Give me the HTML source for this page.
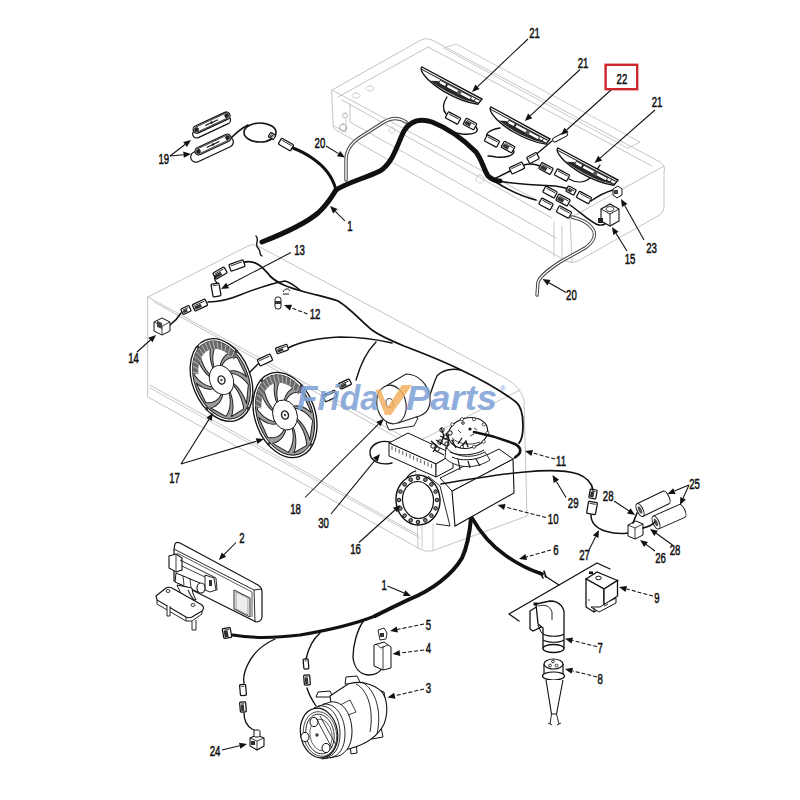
<!DOCTYPE html>
<html><head><meta charset="utf-8"><style>
html,body{margin:0;padding:0;background:#fff;width:800px;height:800px;overflow:hidden}
svg{position:absolute;left:0;top:0;display:block}
.t{font-family:"Liberation Sans",sans-serif;fill:#111;stroke:#111;stroke-width:0.55px}
</style></head><body>
<svg width="800" height="800" viewBox="0 0 800 800">
<rect width="800" height="800" fill="#fff"/>
<path d="M332,90 L421,40 Q426,37 432,40 L660,162 Q666,166 664,172 L664,208 Q663,214 656,217 L578,261 Q572,264 566,261 L336,130 Q333,128 333,124 Z" stroke="#c4c4c4" stroke-width="1.0" fill="none" stroke-linecap="round" stroke-linejoin="round" />
<path d="M332,90 L570,218 L664,166" stroke="#c4c4c4" stroke-width="1.0" fill="none" stroke-linecap="round" stroke-linejoin="round" />
<path d="M570,218 L572,262" stroke="#c4c4c4" stroke-width="1.0" fill="none" stroke-linecap="round" stroke-linejoin="round" />
<path d="M338,97 L428,47 L652,166" stroke="#c4c4c4" stroke-width="1.0" fill="none" stroke-linecap="round" stroke-linejoin="round" />
<path d="M342,100 L552,218" stroke="#c4c4c4" stroke-width="1.0" fill="none" stroke-linecap="round" stroke-linejoin="round" />
<path d="M350,104 L350,122 L556,238" stroke="#c4c4c4" stroke-width="1.0" fill="none" stroke-linecap="round" stroke-linejoin="round" />
<path d="M444,48 L456,44 L640,142 L628,148 Z" stroke="#c4c4c4" stroke-width="0.9" fill="none" stroke-linecap="round" stroke-linejoin="round" />
<path d="M554,222 L554,256 M562,226 L562,260" stroke="#c4c4c4" stroke-width="0.9" fill="none" stroke-linecap="round" stroke-linejoin="round" />
<path d="M334,126 L346,132 M346,120 L346,132" stroke="#c4c4c4" stroke-width="0.9" fill="none" stroke-linecap="round" stroke-linejoin="round" />
<path d="M343,124 a3.5,3.5 0 1,0 0.1,0" stroke="#888" stroke-width="0.8" fill="none" stroke-linecap="round" stroke-linejoin="round" />
<path d="M345,113 a2.5,2.5 0 1,0 0.1,0" stroke="#999" stroke-width="0.8" fill="none" stroke-linecap="round" stroke-linejoin="round" />
<path d="M356,93 a4,2.5 0 1,0 0.1,0 M370,86 a4,2.5 0 1,0 0.1,0" stroke="#c4c4c4" stroke-width="0.8" fill="none" stroke-linecap="round" stroke-linejoin="round" />
<path d="M392,127 a3,3 0 1,0 0.1,0 M480,175 a4,4 0 1,0 0.1,0" stroke="#c4c4c4" stroke-width="0.8" fill="none" stroke-linecap="round" stroke-linejoin="round" />
<path d="M148,297 L248,246 Q253,243 258,246 L505,378 Q520,386 524,400 L527,516 L432,551 Q425,552 420,549 L148,397 Z" stroke="#c4c4c4" stroke-width="1.0" fill="none" stroke-linecap="round" stroke-linejoin="round" />
<path d="M422,522 L422,548 M433,524 L433,550 M150,388 L420,538" stroke="#c4c4c4" stroke-width="0.9" fill="none" stroke-linecap="round" stroke-linejoin="round" />
<path d="M148,297 L415,443 L520,390" stroke="#c4c4c4" stroke-width="1.0" fill="none" stroke-linecap="round" stroke-linejoin="round" />
<path d="M415,443 L418,549" stroke="#c4c4c4" stroke-width="1.0" fill="none" stroke-linecap="round" stroke-linejoin="round" />
<path d="M154,302 L412,446" stroke="#c4c4c4" stroke-width="1.0" fill="none" stroke-linecap="round" stroke-linejoin="round" />
<path d="M150,385 L418,535" stroke="#c4c4c4" stroke-width="1.0" fill="none" stroke-linecap="round" stroke-linejoin="round" />
<path d="M262,242 C285,233 305,224 318,213 C328,204 332,196 336,190 C348,182 366,178 380,171 C394,162 398,142 404,131 C410,121 420,118 432,122 C450,129 466,142 476,152 C482,160 484,170 488,176 C492,180 496,181 500,181" stroke="#111" stroke-width="5.0" fill="none" stroke-linecap="round" stroke-linejoin="round" />
<path d="M336,190 C333,178 324,166 312,158 C305,153 298,150 293,148" stroke="#111" stroke-width="3.0" fill="none" stroke-linecap="round" stroke-linejoin="round" />
<path d="M256,236 C260,240 254,244 258,248 C262,252 258,254 262,256" stroke="#111" stroke-width="1.35" fill="none" stroke-linecap="round" stroke-linejoin="round" />
<path d="M231,138 C236,133 242,128 248,125" stroke="#111" stroke-width="1.6" fill="none" stroke-linecap="round" stroke-linejoin="round" />
<ellipse cx="260" cy="132.5" rx="16" ry="9.5" fill="none" stroke="#111" stroke-width="1.6"/>
<g transform="translate(272,136) rotate(30)"><rect x="-3.0" y="-2.5" width="6" height="5" rx="1" fill="#fff" stroke="#111" stroke-width="1.25"/><line x1="-1.5" y1="-0.7" x2="1.5" y2="-0.7" stroke="#111" stroke-width="0.8"/><rect x="-2.0" y="0.0" width="3.0" height="1.5" fill="#333"/></g>
<g transform="translate(286,144.5) rotate(30)"><rect x="-7.0" y="-3.5" width="14" height="7" rx="1" fill="#fff" stroke="#111" stroke-width="1.25"/><line x1="-5.5" y1="-1.7" x2="5.5" y2="-1.7" stroke="#111" stroke-width="0.8"/></g>
<path d="M447,97 C443,103 442,109 446,114" stroke="#111" stroke-width="1.35" fill="none" stroke-linecap="round" stroke-linejoin="round" />
<g transform="translate(453,118) rotate(28)"><rect x="-7.0" y="-3.5" width="14" height="7" rx="1" fill="#fff" stroke="#111" stroke-width="1.25"/><line x1="-5.5" y1="-1.7" x2="5.5" y2="-1.7" stroke="#111" stroke-width="0.8"/></g>
<g transform="translate(470,124) rotate(28)"><rect x="-6.0" y="-3.5" width="12" height="7" rx="1" fill="#fff" stroke="#111" stroke-width="1.25"/><line x1="-4.5" y1="-1.7" x2="4.5" y2="-1.7" stroke="#111" stroke-width="0.8"/><rect x="-5.0" y="-1.0" width="6.0" height="3.5" fill="#333"/></g>
<path d="M476,127 C480,132 474,135 462,134 C455,133 450,131 446,129" stroke="#111" stroke-width="1.35" fill="none" stroke-linecap="round" stroke-linejoin="round" />
<path d="M500,128 C488,130 484,135 488,138" stroke="#111" stroke-width="1.35" fill="none" stroke-linecap="round" stroke-linejoin="round" />
<g transform="translate(492,141) rotate(28)"><rect x="-7.0" y="-3.5" width="14" height="7" rx="1" fill="#fff" stroke="#111" stroke-width="1.25"/><line x1="-5.5" y1="-1.7" x2="5.5" y2="-1.7" stroke="#111" stroke-width="0.8"/></g>
<g transform="translate(508,147) rotate(28)"><rect x="-6.0" y="-3.5" width="12" height="7" rx="1" fill="#fff" stroke="#111" stroke-width="1.25"/><line x1="-4.5" y1="-1.7" x2="4.5" y2="-1.7" stroke="#111" stroke-width="0.8"/><rect x="-5.0" y="-1.0" width="6.0" height="3.5" fill="#333"/></g>
<path d="M514,151 C514,156 505,158 496,157 C492,156 490,156 488,156" stroke="#111" stroke-width="1.35" fill="none" stroke-linecap="round" stroke-linejoin="round" />
<path d="M494,179 C500,176 505,174 510,171" stroke="#111" stroke-width="1.49" fill="none" stroke-linecap="round" stroke-linejoin="round" />
<g transform="translate(517,168) rotate(-25)"><rect x="-7.0" y="-3.5" width="14" height="7" rx="1" fill="#fff" stroke="#111" stroke-width="1.25"/><line x1="-5.5" y1="-1.7" x2="5.5" y2="-1.7" stroke="#111" stroke-width="0.8"/></g>
<path d="M524,165 C530,163 535,164 540,166" stroke="#111" stroke-width="1.35" fill="none" stroke-linecap="round" stroke-linejoin="round" />
<g transform="translate(546,168.5) rotate(28)"><rect x="-6.5" y="-3.5" width="13" height="7" rx="1" fill="#fff" stroke="#111" stroke-width="1.25"/><line x1="-5.0" y1="-1.7" x2="5.0" y2="-1.7" stroke="#111" stroke-width="0.8"/><rect x="-5.5" y="-1.0" width="6.5" height="3.5" fill="#333"/></g>
<g transform="translate(562,175) rotate(28)"><rect x="-7.0" y="-3.5" width="14" height="7" rx="1" fill="#fff" stroke="#111" stroke-width="1.25"/><line x1="-5.5" y1="-1.7" x2="5.5" y2="-1.7" stroke="#111" stroke-width="0.8"/></g>
<path d="M569,179 C576,183 584,183 590,178 C595,174 598,168 600,165" stroke="#111" stroke-width="1.35" fill="none" stroke-linecap="round" stroke-linejoin="round" />
<path d="M494,180 C510,184 530,185 555,186 C562,187 566,188 568,189" stroke="#111" stroke-width="1.49" fill="none" stroke-linecap="round" stroke-linejoin="round" />
<g transform="translate(571,190.5) rotate(28)"><rect x="-4.5" y="-3.0" width="9" height="6" rx="1" fill="#fff" stroke="#111" stroke-width="1.25"/><line x1="-3.0" y1="-1.2" x2="3.0" y2="-1.2" stroke="#111" stroke-width="0.8"/><rect x="-3.5" y="-0.5" width="4.5" height="2.5" fill="#333"/></g>
<g transform="translate(584,197.5) rotate(28)"><rect x="-7.0" y="-3.5" width="14" height="7" rx="1" fill="#fff" stroke="#111" stroke-width="1.25"/><line x1="-5.5" y1="-1.7" x2="5.5" y2="-1.7" stroke="#111" stroke-width="0.8"/></g>
<path d="M591,201 C598,196 606,192 613,190" stroke="#111" stroke-width="1.35" fill="none" stroke-linecap="round" stroke-linejoin="round" />
<path d="M494,181 C505,188 520,196 536,200" stroke="#111" stroke-width="1.49" fill="none" stroke-linecap="round" stroke-linejoin="round" />
<g transform="translate(546,204) rotate(28)"><rect x="-6.5" y="-3.5" width="13" height="7" rx="1" fill="#fff" stroke="#111" stroke-width="1.25"/><line x1="-5.0" y1="-1.7" x2="5.0" y2="-1.7" stroke="#111" stroke-width="0.8"/></g>
<g transform="translate(550,192) rotate(28)"><rect x="-6.5" y="-3.5" width="13" height="7" rx="1" fill="#fff" stroke="#111" stroke-width="1.25"/><line x1="-5.0" y1="-1.7" x2="5.0" y2="-1.7" stroke="#111" stroke-width="0.8"/></g>
<g transform="translate(563,200) rotate(28)"><rect x="-6.5" y="-3.5" width="13" height="7" rx="1" fill="#fff" stroke="#111" stroke-width="1.25"/><line x1="-5.0" y1="-1.7" x2="5.0" y2="-1.7" stroke="#111" stroke-width="0.8"/><rect x="-5.5" y="-1.0" width="6.5" height="3.5" fill="#333"/></g>
<g transform="translate(564,212) rotate(28)"><rect x="-7.0" y="-3.5" width="14" height="7" rx="1" fill="#fff" stroke="#111" stroke-width="1.25"/><line x1="-5.5" y1="-1.7" x2="5.5" y2="-1.7" stroke="#111" stroke-width="0.8"/></g>
<path d="M570,205 C580,212 588,220 596,224 C600,226 603,225 605,224" stroke="#111" stroke-width="1.49" fill="none" stroke-linecap="round" stroke-linejoin="round" />
<path d="M533,157 L552,141" stroke="#111" stroke-width="1.35" fill="none" stroke-linecap="round" stroke-linejoin="round" />
<g transform="translate(560,137) rotate(-28)"><rect x="-8" y="-2.2" width="16" height="4.4" rx="2" fill="#fff" stroke="#111" stroke-width="0.9"/></g>
<g transform="translate(533,158) rotate(-28)"><rect x="-5.5" y="-3.5" width="11" height="7" rx="1" fill="#fff" stroke="#111" stroke-width="1.25"/><line x1="-4.0" y1="-1.7" x2="4.0" y2="-1.7" stroke="#111" stroke-width="0.8"/></g>
<path d="M346,180 L346,160 C346,150 352,142 362,136 L384,122 C392,117 400,118 406,122" stroke="#444" stroke-width="3.4" fill="none" stroke-linecap="round" stroke-linejoin="round" />
<path d="M346,180 L346,160 C346,150 352,142 362,136 L384,122 C392,117 400,118 406,122" stroke="#fff" stroke-width="1.4" fill="none" stroke-linecap="round" stroke-linejoin="round" />
<path d="M537,295 L538,282 C540,276 548,270 560,262 L585,248 C594,242 597,234 592,228 C588,222 580,219 572,217" stroke="#444" stroke-width="3.4" fill="none" stroke-linecap="round" stroke-linejoin="round" />
<path d="M537,295 L538,282 C540,276 548,270 560,262 L585,248 C594,242 597,234 592,228 C588,222 580,219 572,217" stroke="#fff" stroke-width="1.4" fill="none" stroke-linecap="round" stroke-linejoin="round" />
<path d="M245,262 C255,260 262,266 270,276 C278,284 290,288 305,292 C320,296 330,298 338,301 C350,308 362,322 372,330 C380,336 392,341 404,346 C425,354 445,362 461,370 C478,378 500,390 516,402 C522,407 523,415 523,425 C523,435 522,440 519,443" stroke="#111" stroke-width="1.8" fill="none" stroke-linecap="round" stroke-linejoin="round" />
<path d="M300,290 C295,286 290,282 285,281 C270,284 255,289 240,295 C228,300 215,302 208,302" stroke="#111" stroke-width="1.49" fill="none" stroke-linecap="round" stroke-linejoin="round" />
<g transform="translate(200,305) rotate(-25)"><rect x="-7.0" y="-3.5" width="14" height="7" rx="1" fill="#fff" stroke="#111" stroke-width="1.25"/><line x1="-5.5" y1="-1.7" x2="5.5" y2="-1.7" stroke="#111" stroke-width="0.8"/><rect x="-6.0" y="-1.0" width="7.0" height="3.5" fill="#333"/></g>
<g transform="translate(186,310) rotate(-25)"><rect x="-4.5" y="-3.0" width="9" height="6" rx="1" fill="#fff" stroke="#111" stroke-width="1.25"/><line x1="-3.0" y1="-1.2" x2="3.0" y2="-1.2" stroke="#111" stroke-width="0.8"/><rect x="-3.5" y="-0.5" width="4.5" height="2.5" fill="#333"/></g>
<path d="M181,313 C178,318 174,322 170,325" stroke="#111" stroke-width="1.49" fill="none" stroke-linecap="round" stroke-linejoin="round" />
<g transform="translate(162,326)"><path d="M-8,-4 L0,-8 L8,-4 L8,5 L0,9 L-8,5 Z" fill="#fff" stroke="#111" stroke-width="1"/><path d="M-8,-4 L0,0 L8,-4 M0,0 L0,9" stroke="#111" stroke-width="0.8" fill="none"/><rect x="-5" y="-3" width="5" height="6" fill="#444" transform="skewY(25)"/></g>
<g transform="translate(237,265.5) rotate(-20)"><rect x="-7.5" y="-3.5" width="15" height="7" rx="1" fill="#fff" stroke="#111" stroke-width="1.25"/><line x1="-6.0" y1="-1.7" x2="6.0" y2="-1.7" stroke="#111" stroke-width="0.8"/></g>
<g transform="translate(220,273) rotate(-30)"><rect x="-6.5" y="-3.5" width="13" height="7" rx="1" fill="#fff" stroke="#111" stroke-width="1.25"/><line x1="-5.0" y1="-1.7" x2="5.0" y2="-1.7" stroke="#111" stroke-width="0.8"/><rect x="-5.5" y="-1.0" width="6.5" height="3.5" fill="#333"/></g>
<g transform="translate(216,290) rotate(-10)"><rect x="-4.0" y="-6.5" width="8" height="13" rx="1" fill="#fff" stroke="#111" stroke-width="1.25"/><line x1="-2.5" y1="-4.7" x2="2.5" y2="-4.7" stroke="#111" stroke-width="0.8"/></g>
<path d="M217,283 C214,280 214,277 216,276" stroke="#111" stroke-width="1.35" fill="none" stroke-linecap="round" stroke-linejoin="round" />
<path d="M288,348 C300,342 320,338 340,337 C360,337 375,339 392,343" stroke="#111" stroke-width="1.49" fill="none" stroke-linecap="round" stroke-linejoin="round" />
<g transform="translate(282,349) rotate(-20)"><rect x="-6.0" y="-3.0" width="12" height="6" rx="1" fill="#fff" stroke="#111" stroke-width="1.25"/><line x1="-4.5" y1="-1.2" x2="4.5" y2="-1.2" stroke="#111" stroke-width="0.8"/><rect x="-5.0" y="-0.5" width="6.0" height="2.5" fill="#333"/></g>
<g transform="translate(265,360) rotate(-25)"><rect x="-7.0" y="-3.5" width="14" height="7" rx="1" fill="#fff" stroke="#111" stroke-width="1.25"/><line x1="-5.5" y1="-1.7" x2="5.5" y2="-1.7" stroke="#111" stroke-width="0.8"/></g>
<path d="M258,364 C254,368 250,372 247,375" stroke="#111" stroke-width="1.49" fill="none" stroke-linecap="round" stroke-linejoin="round" />
<path d="M376,342 C366,352 360,366 356,380" stroke="#111" stroke-width="1.35" fill="none" stroke-linecap="round" stroke-linejoin="round" />
<g transform="translate(345,384) rotate(-25)"><rect x="-6.0" y="-3.0" width="12" height="6" rx="1" fill="#fff" stroke="#111" stroke-width="1.25"/><line x1="-4.5" y1="-1.2" x2="4.5" y2="-1.2" stroke="#111" stroke-width="0.8"/><rect x="-5.0" y="-0.5" width="6.0" height="2.5" fill="#333"/></g>
<g transform="translate(330,396) rotate(-25)"><rect x="-6.5" y="-3.5" width="13" height="7" rx="1" fill="#fff" stroke="#111" stroke-width="1.25"/><line x1="-5.0" y1="-1.7" x2="5.0" y2="-1.7" stroke="#111" stroke-width="0.8"/></g>
<path d="M461,370 C452,368 442,370 437,376 C433,384 430,398 423,411" stroke="#111" stroke-width="1.35" fill="none" stroke-linecap="round" stroke-linejoin="round" />
<path d="M392,463 C380,466 369,461 370,451 C372,443 382,440 390,442" stroke="#111" stroke-width="1.35" fill="none" stroke-linecap="round" stroke-linejoin="round" />
<path d="M455,364 C470,368 480,375 492,385 C505,398 515,410 520,420" stroke="#111" stroke-width="0.01" fill="none" stroke-linecap="round" stroke-linejoin="round" />
<path d="M471,518 C470,530 468,545 462,558 C452,575 432,590 410,599 C395,606 385,611 375,616" stroke="#111" stroke-width="4.0" fill="none" stroke-linecap="round" stroke-linejoin="round" />
<path d="M375,616 C355,624 330,630 300,635 C275,638 250,638 233,635" stroke="#111" stroke-width="3.0" fill="none" stroke-linecap="round" stroke-linejoin="round" />
<path d="M472,518 C480,532 492,546 505,555 C516,563 530,570 542,574" stroke="#111" stroke-width="3.6" fill="none" stroke-linecap="round" stroke-linejoin="round" />
<path d="M540,572 L543,578 M544,571 L546,577" stroke="#111" stroke-width="1.62" fill="none" stroke-linecap="round" stroke-linejoin="round" />
<path d="M519,621 L509,614 L597,563 L610,569" stroke="#111" stroke-width="1.35" fill="none" stroke-linecap="round" stroke-linejoin="round" />
<path d="M545,576 L559,585" stroke="#111" stroke-width="1.35" fill="none" stroke-linecap="round" stroke-linejoin="round" />
<path d="M591,515 C591,522 596,528 605,531 C615,534 622,534 628,533" stroke="#111" stroke-width="1.5" fill="none" stroke-linecap="round" stroke-linejoin="round" />
<g transform="translate(593,494) rotate(10)"><rect x="-3.5" y="-4.5" width="7" height="9" rx="1" fill="#fff" stroke="#111" stroke-width="1.25"/><line x1="-2.0" y1="-2.7" x2="2.0" y2="-2.7" stroke="#111" stroke-width="0.8"/><rect x="-2.5" y="-2.0" width="3.5" height="5.5" fill="#333"/></g>
<g transform="translate(592,508) rotate(10)"><rect x="-4.5" y="-6.0" width="9" height="12" rx="1" fill="#fff" stroke="#111" stroke-width="1.25"/><line x1="-3.0" y1="-4.2" x2="3.0" y2="-4.2" stroke="#111" stroke-width="0.8"/></g>
<path d="M275,639 C262,645 252,654 247,666 C244,673 243,678 244,683" stroke="#111" stroke-width="1.35" fill="none" stroke-linecap="round" stroke-linejoin="round" />
<path d="M320,633 C312,640 308,650 306,659" stroke="#111" stroke-width="1.35" fill="none" stroke-linecap="round" stroke-linejoin="round" />
<path d="M364,620 C357,630 353,645 353,657 C354,668 360,674 368,675 C375,675 380,672 382,668" stroke="#111" stroke-width="1.35" fill="none" stroke-linecap="round" stroke-linejoin="round" />
<path d="M244,713 C244,720 247,726 252,729 L256,731" stroke="#111" stroke-width="1.35" fill="none" stroke-linecap="round" stroke-linejoin="round" />
<path d="M307,688 C309,695 312,700 316,706" stroke="#111" stroke-width="1.35" fill="none" stroke-linecap="round" stroke-linejoin="round" />
<rect x="-20.5" y="-4.0" width="41" height="8" rx="4.0" transform="translate(211.6,127) rotate(-25)" fill="#fff" stroke="#111" stroke-width="1.2"/>
<rect x="-20.0" y="-3.75" width="40" height="7.5" rx="3.75" transform="translate(211.6,122.6) rotate(-25)" fill="#fff" stroke="#111" stroke-width="1.2"/>
<g transform="translate(211.6,122.6) rotate(-25)"><rect x="-18.8" y="-2.55" width="37.6" height="5.1" rx="2.55" fill="none" stroke="#111" stroke-width="0.7"/><line x1="-7" y1="0" x2="7" y2="0" stroke="#111" stroke-width="1.1"/><circle cx="0" cy="0" r="1.2" fill="#111"/><circle cx="-16.4" cy="0" r="2.2" fill="#222"/><circle cx="16.4" cy="0" r="2.2" fill="#222"/></g>
<rect x="-23.0" y="-5.25" width="46" height="10.5" rx="5.25" transform="translate(212,149.5) rotate(-25)" fill="#fff" stroke="#111" stroke-width="1.2"/>
<rect x="-19.5" y="-3.75" width="39" height="7.5" rx="3.75" transform="translate(213,144.5) rotate(-25)" fill="#fff" stroke="#111" stroke-width="1.2"/>
<g transform="translate(213,144.5) rotate(-25)"><rect x="-18.3" y="-2.55" width="36.6" height="5.1" rx="2.55" fill="none" stroke="#111" stroke-width="0.7"/><line x1="-7" y1="0" x2="7" y2="0" stroke="#111" stroke-width="1.1"/><circle cx="0" cy="0" r="1.2" fill="#111"/><circle cx="-15.9" cy="0" r="2.2" fill="#222"/><circle cx="15.9" cy="0" r="2.2" fill="#222"/></g>
<g transform="translate(422,67) rotate(28.1)"><path d="M0,0 L68.0,0 L66.8,6.5 C57.8,9.8 44.2,11.6 30.6,11.2 C17.0,10.6 3.4,7 0,2 Z" fill="#fff" stroke="#111" stroke-width="1.4"/><path d="M1,2.2 L66.5,2.2" stroke="#111" stroke-width="0.9"/><path d="M13.6,8.2 C23.8,10.2 40.8,10.6 54.4,8.6 L66.5,6 L66.5,5 L20.4,5 Z" fill="#2a2a2a"/><rect x="22.4" y="3" width="35.4" height="3.4" fill="#fff" stroke="#111" stroke-width="0.8"/><rect x="29.2" y="3" width="2" height="3.4" fill="#222"/><rect x="42.8" y="2.8" width="4" height="4" fill="#555"/><path d="M62.0,2.4 L62.0,6.5" stroke="#111" stroke-width="0.8"/></g>
<g transform="translate(491,107) rotate(28.5)"><path d="M0,0 L67.11929677819934,0 L65.91929677819934,6.5 C57.1,9.8 43.6,11.6 30.2,11.2 C16.8,10.6 3.4,7 0,2 Z" fill="#fff" stroke="#111" stroke-width="1.4"/><path d="M1,2.2 L65.61929677819934,2.2" stroke="#111" stroke-width="0.9"/><path d="M13.4,8.2 C23.5,10.2 40.3,10.6 53.7,8.6 L65.61929677819934,6 L65.61929677819934,5 L20.1,5 Z" fill="#2a2a2a"/><rect x="22.1" y="3" width="34.9" height="3.4" fill="#fff" stroke="#111" stroke-width="0.8"/><rect x="28.9" y="3" width="2" height="3.4" fill="#222"/><rect x="42.3" y="2.8" width="4" height="4" fill="#555"/><path d="M61.11929677819934,2.4 L61.11929677819934,6.5" stroke="#111" stroke-width="0.8"/></g>
<g transform="translate(558,148) rotate(28.1)"><path d="M0,0 L68.0,0 L66.8,6.5 C57.8,9.8 44.2,11.6 30.6,11.2 C17.0,10.6 3.4,7 0,2 Z" fill="#fff" stroke="#111" stroke-width="1.4"/><path d="M1,2.2 L66.5,2.2" stroke="#111" stroke-width="0.9"/><path d="M13.6,8.2 C23.8,10.2 40.8,10.6 54.4,8.6 L66.5,6 L66.5,5 L20.4,5 Z" fill="#2a2a2a"/><rect x="22.4" y="3" width="35.4" height="3.4" fill="#fff" stroke="#111" stroke-width="0.8"/><rect x="29.2" y="3" width="2" height="3.4" fill="#222"/><rect x="42.8" y="2.8" width="4" height="4" fill="#555"/><path d="M62.0,2.4 L62.0,6.5" stroke="#111" stroke-width="0.8"/></g>
<g transform="translate(221.5,380) rotate(-22)"><ellipse rx="29" ry="43" fill="#fff" stroke="#111" stroke-width="1.3"/><ellipse rx="26.6" ry="40.6" fill="#9c9c9c" stroke="#111" stroke-width="0.9"/><path d="M8.78,-3.34 L10.47,-2.93 L12.15,-2.21 L13.81,-1.18 L15.43,0.16 L16.98,1.81 L18.46,3.76 L19.83,5.99 L21.09,8.50 L22.21,11.28 L23.18,14.30 L14.34,31.26 L14.48,28.08 L14.42,24.97 L14.19,21.97 L13.79,19.09 L13.23,16.35 L12.51,13.77 L11.65,11.37 L10.66,9.17 L9.55,7.17 L8.33,5.39 Z" fill="#fff" stroke="#222" stroke-width="1.0" stroke-linejoin="round"/><path d="M7.75,7.11 L8.76,9.22 L9.62,11.55 L10.31,14.07 L10.83,16.77 L11.17,19.61 L11.31,22.58 L11.25,25.64 L10.97,28.77 L10.48,31.95 L9.77,35.13 L-4.34,37.58 L-2.77,35.48 L-1.37,33.23 L-0.14,30.86 L0.91,28.39 L1.78,25.84 L2.47,23.25 L2.97,20.62 L3.29,17.99 L3.43,15.37 L3.39,12.80 Z" fill="#fff" stroke="#222" stroke-width="1.0" stroke-linejoin="round"/><path d="M2.19,13.39 L1.92,15.97 L1.45,18.54 L0.77,21.08 L-0.11,23.55 L-1.19,25.92 L-2.46,28.17 L-3.93,30.27 L-5.57,32.19 L-7.39,33.90 L-9.37,35.39 L-20.48,21.89 L-18.40,22.09 L-16.36,22.02 L-14.39,21.67 L-12.51,21.05 L-10.71,20.19 L-9.02,19.10 L-7.45,17.79 L-6.01,16.27 L-4.70,14.57 L-3.53,12.71 Z" fill="#fff" stroke="#222" stroke-width="1.0" stroke-linejoin="round"/><path d="M-4.66,11.83 L-6.04,13.37 L-7.57,14.68 L-9.22,15.74 L-10.99,16.53 L-12.85,17.05 L-14.79,17.26 L-16.80,17.17 L-18.85,16.75 L-20.93,16.00 L-23.02,14.91 L-24.62,-6.63 L-23.24,-4.23 L-21.77,-2.09 L-20.22,-0.22 L-18.60,1.39 L-16.93,2.72 L-15.23,3.76 L-13.51,4.53 L-11.79,5.02 L-10.07,5.23 L-8.39,5.17 Z" fill="#fff" stroke="#222" stroke-width="1.0" stroke-linejoin="round"/><path d="M-8.78,3.34 L-10.47,2.93 L-12.15,2.21 L-13.81,1.18 L-15.43,-0.16 L-16.98,-1.81 L-18.46,-3.76 L-19.83,-5.99 L-21.09,-8.50 L-22.21,-11.28 L-23.18,-14.30 L-14.34,-31.26 L-14.48,-28.08 L-14.42,-24.97 L-14.19,-21.97 L-13.79,-19.09 L-13.23,-16.35 L-12.51,-13.77 L-11.65,-11.37 L-10.66,-9.17 L-9.55,-7.17 L-8.33,-5.39 Z" fill="#fff" stroke="#222" stroke-width="1.0" stroke-linejoin="round"/><path d="M-7.75,-7.11 L-8.76,-9.22 L-9.62,-11.55 L-10.31,-14.07 L-10.83,-16.77 L-11.17,-19.61 L-11.31,-22.58 L-11.25,-25.64 L-10.97,-28.77 L-10.48,-31.95 L-9.77,-35.13 L4.34,-37.58 L2.77,-35.48 L1.37,-33.23 L0.14,-30.86 L-0.91,-28.39 L-1.78,-25.84 L-2.47,-23.25 L-2.97,-20.62 L-3.29,-17.99 L-3.43,-15.37 L-3.39,-12.80 Z" fill="#fff" stroke="#222" stroke-width="1.0" stroke-linejoin="round"/><path d="M-2.19,-13.39 L-1.92,-15.97 L-1.45,-18.54 L-0.77,-21.08 L0.11,-23.55 L1.19,-25.92 L2.46,-28.17 L3.93,-30.27 L5.57,-32.19 L7.39,-33.90 L9.37,-35.39 L20.48,-21.89 L18.40,-22.09 L16.36,-22.02 L14.39,-21.67 L12.51,-21.05 L10.71,-20.19 L9.02,-19.10 L7.45,-17.79 L6.01,-16.27 L4.70,-14.57 L3.53,-12.71 Z" fill="#fff" stroke="#222" stroke-width="1.0" stroke-linejoin="round"/><path d="M4.66,-11.83 L6.04,-13.37 L7.57,-14.68 L9.22,-15.74 L10.99,-16.53 L12.85,-17.05 L14.79,-17.26 L16.80,-17.17 L18.85,-16.75 L20.93,-16.00 L23.02,-14.91 L24.62,6.63 L23.24,4.23 L21.77,2.09 L20.22,0.22 L18.60,-1.39 L16.93,-2.72 L15.23,-3.76 L13.51,-4.53 L11.79,-5.02 L10.07,-5.23 L8.39,-5.17 Z" fill="#fff" stroke="#222" stroke-width="1.0" stroke-linejoin="round"/><path d="M-24.1,-17.2 L-23.2,-19.9 L-22.2,-22.5 L-21.0,-24.9 L-19.7,-27.3 L-18.3,-29.5 L-16.8,-31.5 L-15.2,-33.3 L-13.5,-34.9 L-11.8,-36.4 L-10.0,-37.6 L-8.1,-38.7 L-6.2,-39.5 L-4.2,-40.1 L-2.2,-40.5 L-0.2,-40.6 L1.8,-40.5 L3.7,-40.2 L5.7,-39.7 L7.6,-38.9 L9.5,-37.9 L11.4,-36.7 L13.1,-35.3 L14.8,-33.7 L16.4,-31.9 L18.0,-29.9 L19.4,-27.8 L20.7,-25.5 L21.9,-23.1 L23.0,-20.5 L23.9,-17.8 L19.1,-14.2 L18.4,-16.4 L17.5,-18.4 L16.6,-20.4 L15.5,-22.2 L14.4,-23.9 L13.2,-25.5 L11.9,-27.0 L10.5,-28.2 L9.1,-29.4 L7.6,-30.3 L6.1,-31.1 L4.6,-31.7 L3.0,-32.2 L1.4,-32.4 L-0.2,-32.5 L-1.8,-32.4 L-3.4,-32.1 L-4.9,-31.6 L-6.5,-30.9 L-8.0,-30.1 L-9.4,-29.1 L-10.8,-28.0 L-12.2,-26.6 L-13.4,-25.2 L-14.6,-23.6 L-15.8,-21.8 L-16.8,-20.0 L-17.7,-18.0 L-18.6,-15.9 L-19.3,-13.7 Z" fill="#6a6a6a"/><line x1="-19.0" y1="-14.7" x2="-23.7" y2="-18.4" stroke="#ddd" stroke-width="0.6"/><line x1="-17.3" y1="-18.9" x2="-21.6" y2="-23.6" stroke="#ddd" stroke-width="0.6"/><line x1="-15.3" y1="-22.6" x2="-19.1" y2="-28.3" stroke="#ddd" stroke-width="0.6"/><line x1="-12.9" y1="-25.9" x2="-16.1" y2="-32.3" stroke="#ddd" stroke-width="0.6"/><line x1="-10.2" y1="-28.5" x2="-12.7" y2="-35.6" stroke="#ddd" stroke-width="0.6"/><line x1="-7.3" y1="-30.5" x2="-9.1" y2="-38.2" stroke="#ddd" stroke-width="0.6"/><line x1="-4.2" y1="-31.8" x2="-5.3" y2="-39.8" stroke="#ddd" stroke-width="0.6"/><line x1="-1.0" y1="-32.4" x2="-1.3" y2="-40.6" stroke="#ddd" stroke-width="0.6"/><line x1="2.2" y1="-32.3" x2="2.7" y2="-40.4" stroke="#ddd" stroke-width="0.6"/><line x1="5.3" y1="-31.5" x2="6.6" y2="-39.3" stroke="#ddd" stroke-width="0.6"/><line x1="8.3" y1="-29.9" x2="10.4" y2="-37.4" stroke="#ddd" stroke-width="0.6"/><line x1="11.2" y1="-27.7" x2="13.9" y2="-34.6" stroke="#ddd" stroke-width="0.6"/><line x1="13.7" y1="-24.8" x2="17.2" y2="-31.0" stroke="#ddd" stroke-width="0.6"/><line x1="16.0" y1="-21.4" x2="20.0" y2="-26.7" stroke="#ddd" stroke-width="0.6"/><line x1="17.9" y1="-17.5" x2="22.4" y2="-21.9" stroke="#ddd" stroke-width="0.6"/><ellipse rx="11.6" ry="15.0" fill="#fff" stroke="#111" stroke-width="0.9"/><ellipse rx="3.4" ry="4.2" fill="#fff" stroke="#222" stroke-width="1.4"/><ellipse rx="1.1" ry="1.3" fill="#444"/><circle cx="14.2" cy="36.5" r="1.6" fill="#333"/><circle cx="-24.6" cy="21.1" r="1.6" fill="#333"/><circle cx="-9.7" cy="-39.6" r="1.6" fill="#333"/><circle cx="24.6" cy="-21.1" r="1.6" fill="#333"/></g>
<g transform="translate(285,415) rotate(-20)"><ellipse rx="30" ry="44" fill="#fff" stroke="#111" stroke-width="1.3"/><ellipse rx="27.6" ry="41.6" fill="#9c9c9c" stroke="#111" stroke-width="0.9"/><path d="M9.11,-3.42 L10.86,-3.00 L12.61,-2.27 L14.33,-1.21 L16.01,0.17 L17.62,1.86 L19.15,3.85 L20.58,6.14 L21.88,8.71 L23.05,11.56 L24.05,14.65 L14.88,32.03 L15.02,28.77 L14.97,25.59 L14.73,22.51 L14.31,19.56 L13.73,16.76 L12.98,14.11 L12.09,11.65 L11.06,9.39 L9.91,7.35 L8.64,5.53 Z" fill="#fff" stroke="#222" stroke-width="1.0" stroke-linejoin="round"/><path d="M8.04,7.28 L9.09,9.45 L9.98,11.83 L10.70,14.42 L11.24,17.18 L11.59,20.09 L11.73,23.13 L11.67,26.27 L11.38,29.48 L10.88,32.73 L10.14,36.00 L-4.51,38.51 L-2.88,36.35 L-1.42,34.04 L-0.15,31.62 L0.94,29.09 L1.85,26.48 L2.56,23.82 L3.08,21.13 L3.41,18.43 L3.56,15.75 L3.52,13.11 Z" fill="#fff" stroke="#222" stroke-width="1.0" stroke-linejoin="round"/><path d="M2.27,13.72 L1.99,16.37 L1.50,19.00 L0.80,21.60 L-0.11,24.13 L-1.23,26.56 L-2.56,28.86 L-4.07,31.01 L-5.78,32.98 L-7.67,34.74 L-9.72,36.26 L-21.25,22.43 L-19.09,22.64 L-16.98,22.56 L-14.94,22.20 L-12.98,21.57 L-11.12,20.69 L-9.36,19.57 L-7.73,18.22 L-6.23,16.67 L-4.87,14.93 L-3.67,13.02 Z" fill="#fff" stroke="#222" stroke-width="1.0" stroke-linejoin="round"/><path d="M-4.83,12.12 L-6.27,13.70 L-7.85,15.04 L-9.57,16.13 L-11.40,16.94 L-13.33,17.47 L-15.35,17.69 L-17.43,17.59 L-19.56,17.16 L-21.72,16.39 L-23.88,15.28 L-25.55,-6.79 L-24.12,-4.33 L-22.59,-2.14 L-20.98,-0.22 L-19.30,1.42 L-17.57,2.78 L-15.80,3.86 L-14.02,4.65 L-12.23,5.15 L-10.45,5.36 L-8.70,5.30 Z" fill="#fff" stroke="#222" stroke-width="1.0" stroke-linejoin="round"/><path d="M-9.11,3.42 L-10.86,3.00 L-12.61,2.27 L-14.33,1.21 L-16.01,-0.17 L-17.62,-1.86 L-19.15,-3.85 L-20.58,-6.14 L-21.88,-8.71 L-23.05,-11.56 L-24.05,-14.65 L-14.88,-32.03 L-15.02,-28.77 L-14.97,-25.59 L-14.73,-22.51 L-14.31,-19.56 L-13.73,-16.76 L-12.98,-14.11 L-12.09,-11.65 L-11.06,-9.39 L-9.91,-7.35 L-8.64,-5.53 Z" fill="#fff" stroke="#222" stroke-width="1.0" stroke-linejoin="round"/><path d="M-8.04,-7.28 L-9.09,-9.45 L-9.98,-11.83 L-10.70,-14.42 L-11.24,-17.18 L-11.59,-20.09 L-11.73,-23.13 L-11.67,-26.27 L-11.38,-29.48 L-10.88,-32.73 L-10.14,-36.00 L4.51,-38.51 L2.88,-36.35 L1.42,-34.04 L0.15,-31.62 L-0.94,-29.09 L-1.85,-26.48 L-2.56,-23.82 L-3.08,-21.13 L-3.41,-18.43 L-3.56,-15.75 L-3.52,-13.11 Z" fill="#fff" stroke="#222" stroke-width="1.0" stroke-linejoin="round"/><path d="M-2.27,-13.72 L-1.99,-16.37 L-1.50,-19.00 L-0.80,-21.60 L0.11,-24.13 L1.23,-26.56 L2.56,-28.86 L4.07,-31.01 L5.78,-32.98 L7.67,-34.74 L9.72,-36.26 L21.25,-22.43 L19.09,-22.64 L16.98,-22.56 L14.94,-22.20 L12.98,-21.57 L11.12,-20.69 L9.36,-19.57 L7.73,-18.22 L6.23,-16.67 L4.87,-14.93 L3.67,-13.02 Z" fill="#fff" stroke="#222" stroke-width="1.0" stroke-linejoin="round"/><path d="M4.83,-12.12 L6.27,-13.70 L7.85,-15.04 L9.57,-16.13 L11.40,-16.94 L13.33,-17.47 L15.35,-17.69 L17.43,-17.59 L19.56,-17.16 L21.72,-16.39 L23.88,-15.28 L25.55,6.79 L24.12,4.33 L22.59,2.14 L20.98,0.22 L19.30,-1.42 L17.57,-2.78 L15.80,-3.86 L14.02,-4.65 L12.23,-5.15 L10.45,-5.36 L8.70,-5.30 Z" fill="#fff" stroke="#222" stroke-width="1.0" stroke-linejoin="round"/><path d="M-25.0,-17.6 L-24.1,-20.4 L-23.0,-23.0 L-21.8,-25.6 L-20.4,-27.9 L-19.0,-30.2 L-17.4,-32.2 L-15.8,-34.1 L-14.0,-35.8 L-12.2,-37.3 L-10.3,-38.6 L-8.4,-39.6 L-6.4,-40.5 L-4.4,-41.1 L-2.3,-41.5 L-0.2,-41.6 L1.8,-41.5 L3.9,-41.2 L5.9,-40.6 L7.9,-39.8 L9.9,-38.8 L11.8,-37.6 L13.6,-36.2 L15.4,-34.5 L17.1,-32.7 L18.6,-30.7 L20.1,-28.5 L21.5,-26.1 L22.7,-23.6 L23.8,-21.0 L24.8,-18.2 L19.8,-14.6 L19.1,-16.8 L18.2,-18.9 L17.2,-20.9 L16.1,-22.8 L14.9,-24.5 L13.7,-26.2 L12.3,-27.6 L10.9,-28.9 L9.4,-30.1 L7.9,-31.1 L6.3,-31.9 L4.7,-32.5 L3.1,-32.9 L1.5,-33.2 L-0.2,-33.3 L-1.8,-33.2 L-3.5,-32.9 L-5.1,-32.4 L-6.7,-31.7 L-8.3,-30.9 L-9.8,-29.8 L-11.2,-28.6 L-12.6,-27.3 L-14.0,-25.8 L-15.2,-24.1 L-16.4,-22.4 L-17.4,-20.4 L-18.4,-18.4 L-19.3,-16.3 L-20.0,-14.1 Z" fill="#6a6a6a"/><line x1="-19.7" y1="-15.1" x2="-24.6" y2="-18.9" stroke="#ddd" stroke-width="0.6"/><line x1="-18.0" y1="-19.4" x2="-22.4" y2="-24.2" stroke="#ddd" stroke-width="0.6"/><line x1="-15.8" y1="-23.2" x2="-19.8" y2="-29.0" stroke="#ddd" stroke-width="0.6"/><line x1="-13.3" y1="-26.5" x2="-16.7" y2="-33.1" stroke="#ddd" stroke-width="0.6"/><line x1="-10.6" y1="-29.2" x2="-13.2" y2="-36.5" stroke="#ddd" stroke-width="0.6"/><line x1="-7.6" y1="-31.3" x2="-9.4" y2="-39.1" stroke="#ddd" stroke-width="0.6"/><line x1="-4.4" y1="-32.6" x2="-5.5" y2="-40.8" stroke="#ddd" stroke-width="0.6"/><line x1="-1.1" y1="-33.2" x2="-1.3" y2="-41.6" stroke="#ddd" stroke-width="0.6"/><line x1="2.2" y1="-33.1" x2="2.8" y2="-41.4" stroke="#ddd" stroke-width="0.6"/><line x1="5.5" y1="-32.2" x2="6.9" y2="-40.3" stroke="#ddd" stroke-width="0.6"/><line x1="8.6" y1="-30.6" x2="10.8" y2="-38.3" stroke="#ddd" stroke-width="0.6"/><line x1="11.6" y1="-28.3" x2="14.5" y2="-35.4" stroke="#ddd" stroke-width="0.6"/><line x1="14.3" y1="-25.4" x2="17.8" y2="-31.8" stroke="#ddd" stroke-width="0.6"/><line x1="16.6" y1="-21.9" x2="20.8" y2="-27.4" stroke="#ddd" stroke-width="0.6"/><line x1="18.6" y1="-17.9" x2="23.3" y2="-22.4" stroke="#ddd" stroke-width="0.6"/><ellipse rx="12.0" ry="15.4" fill="#fff" stroke="#111" stroke-width="0.9"/><ellipse rx="3.4" ry="4.2" fill="#fff" stroke="#222" stroke-width="1.4"/><ellipse rx="1.1" ry="1.3" fill="#444"/><circle cx="14.7" cy="37.3" r="1.6" fill="#333"/><circle cx="-25.5" cy="21.6" r="1.6" fill="#333"/><circle cx="-10.1" cy="-40.5" r="1.6" fill="#333"/><circle cx="25.5" cy="-21.6" r="1.6" fill="#333"/></g>
<path d="M386,423 L389,430 L414,426 L418,418 L408,414 Z" fill="#fff" stroke="#222" stroke-width="1"/>
<path d="M386,386 L406,374 C418,374 428,384 430,397 C431,408 426,415 416,417 L398,423 Z" fill="#fff" stroke="#222" stroke-width="1.1"/>
<ellipse cx="0" cy="0" rx="14.5" ry="19.5" transform="translate(391.5,404.5) rotate(-12)" fill="#fff" stroke="#222" stroke-width="1.1"/>
<ellipse cx="0" cy="0" rx="3.5" ry="4.5" transform="translate(389.5,403) rotate(-12)" fill="#fff" stroke="#333" stroke-width="0.9"/>
<path d="M452,491 L513,459 L514,493 L455,526 Z" fill="#fff" stroke="#111" stroke-width="1.1"/>
<path d="M452,491 L440,478 L499,449 L513,459 Z" fill="#fff" stroke="#111" stroke-width="1"/>
<path d="M389,443 L408,433 L453,454 L436,464 Z" fill="#fff" stroke="#111" stroke-width="1"/>
<path d="M389,443 L389,456 L436,477 L436,464 Z" fill="#fff" stroke="#111" stroke-width="1"/>
<path d="M436,464 L453,454 L453,468 L436,477 Z" fill="#fff" stroke="#111" stroke-width="1"/>
<line x1="392.0" y1="446.0" x2="392.0" y2="450.0" stroke="#333" stroke-width="0.8"/>
<line x1="395.6" y1="447.6" x2="395.6" y2="451.6" stroke="#333" stroke-width="0.8"/>
<line x1="399.2" y1="449.3" x2="399.2" y2="453.3" stroke="#333" stroke-width="0.8"/>
<line x1="402.8" y1="450.9" x2="402.8" y2="454.9" stroke="#333" stroke-width="0.8"/>
<line x1="406.4" y1="452.6" x2="406.4" y2="456.6" stroke="#333" stroke-width="0.8"/>
<line x1="410.0" y1="454.2" x2="410.0" y2="458.2" stroke="#333" stroke-width="0.8"/>
<line x1="413.6" y1="455.9" x2="413.6" y2="459.9" stroke="#333" stroke-width="0.8"/>
<line x1="417.2" y1="457.6" x2="417.2" y2="461.6" stroke="#333" stroke-width="0.8"/>
<line x1="420.8" y1="459.2" x2="420.8" y2="463.2" stroke="#333" stroke-width="0.8"/>
<line x1="424.4" y1="460.9" x2="424.4" y2="464.9" stroke="#333" stroke-width="0.8"/>
<line x1="428.0" y1="462.5" x2="428.0" y2="466.5" stroke="#333" stroke-width="0.8"/>
<line x1="431.6" y1="464.1" x2="431.6" y2="468.1" stroke="#333" stroke-width="0.8"/>
<ellipse cx="0" cy="0" rx="20" ry="15" transform="translate(468,433) rotate(-15)" fill="#fff" stroke="#111" stroke-width="1.1"/>
<circle cx="487.4" cy="433.0" r="1.6" fill="#fff" stroke="#111" stroke-width="0.7"/>
<circle cx="483.7" cy="441.6" r="1.6" fill="#fff" stroke="#111" stroke-width="0.7"/>
<circle cx="474.0" cy="446.8" r="1.6" fill="#fff" stroke="#111" stroke-width="0.7"/>
<circle cx="462.0" cy="446.8" r="1.6" fill="#fff" stroke="#111" stroke-width="0.7"/>
<circle cx="452.3" cy="441.6" r="1.6" fill="#fff" stroke="#111" stroke-width="0.7"/>
<circle cx="448.6" cy="433.0" r="1.6" fill="#fff" stroke="#111" stroke-width="0.7"/>
<circle cx="452.3" cy="424.4" r="1.6" fill="#fff" stroke="#111" stroke-width="0.7"/>
<circle cx="462.0" cy="419.2" r="1.6" fill="#fff" stroke="#111" stroke-width="0.7"/>
<circle cx="474.0" cy="419.2" r="1.6" fill="#fff" stroke="#111" stroke-width="0.7"/>
<circle cx="483.7" cy="424.4" r="1.6" fill="#fff" stroke="#111" stroke-width="0.7"/>
<path d="M452,438 C458,444 470,446 480,442 M458,430 l3,3 M470,436 l4,-2 M474,428 l3,2" stroke="#111" stroke-width="0.8" fill="none"/>
<path d="M446,447 C452,456 470,460 485,452 L490,460 C475,470 455,468 445,458 Z" fill="#fff" stroke="#111" stroke-width="0.9"/>
<circle cx="440" cy="442" r="2.2" fill="#fff" stroke="#111" stroke-width="1.0"/>
<circle cx="445" cy="437" r="2.2" fill="#fff" stroke="#111" stroke-width="1.0"/>
<circle cx="437" cy="449" r="2.2" fill="#fff" stroke="#111" stroke-width="1.0"/>
<circle cx="433" cy="446" r="2.2" fill="#fff" stroke="#111" stroke-width="1.0"/>
<circle cx="447" cy="444" r="2.2" fill="#fff" stroke="#111" stroke-width="1.0"/>
<circle cx="442" cy="430" r="2.2" fill="#fff" stroke="#111" stroke-width="1.0"/>
<circle cx="450" cy="433" r="2.2" fill="#fff" stroke="#111" stroke-width="1.0"/>
<path d="M436,440 L446,446 M440,436 L448,440 M434,450 L444,455" stroke="#222" stroke-width="1.2"/>
<circle cx="470" cy="429" r="1.6" fill="#111"/><circle cx="463" cy="423" r="1.3" fill="none" stroke="#111" stroke-width="0.9"/>
<path d="M441,428 L444,436 L440,445 M446,433 C449,438 449,444 446,449 M431,441 L437,446 L433,452 M452,440 L456,448 M458,444 L462,438 M462,446 L466,441 L468,447" stroke="#111" stroke-width="1.3" fill="none"/>
<path d="M450,452 C458,456 474,456 484,450 M452,457 C460,461 475,461 486,455" stroke="#111" stroke-width="1.0" fill="none"/>
<path d="M458,459 L460,470 M468,461 L470,468 M476,459 L480,466" stroke="#222" stroke-width="1.2" fill="none"/>
<ellipse cx="0" cy="0" rx="22" ry="25" transform="translate(418,500) rotate(-5)" fill="#fff" stroke="#111" stroke-width="1.4"/>
<ellipse cx="0" cy="0" rx="15.5" ry="18.5" transform="translate(418,500) rotate(-5)" fill="#fff" stroke="#111" stroke-width="1.2"/>
<circle cx="437.0" cy="500.0" r="1.8" fill="#888" stroke="#111" stroke-width="1.0"/>
<circle cx="435.6" cy="508.4" r="1.8" fill="#888" stroke="#111" stroke-width="1.0"/>
<circle cx="431.4" cy="515.6" r="1.8" fill="#888" stroke="#111" stroke-width="1.0"/>
<circle cx="425.3" cy="520.3" r="1.8" fill="#888" stroke="#111" stroke-width="1.0"/>
<circle cx="418.0" cy="522.0" r="1.8" fill="#888" stroke="#111" stroke-width="1.0"/>
<circle cx="410.7" cy="520.3" r="1.8" fill="#888" stroke="#111" stroke-width="1.0"/>
<circle cx="404.6" cy="515.6" r="1.8" fill="#888" stroke="#111" stroke-width="1.0"/>
<circle cx="400.4" cy="508.4" r="1.8" fill="#888" stroke="#111" stroke-width="1.0"/>
<circle cx="399.0" cy="500.0" r="1.8" fill="#888" stroke="#111" stroke-width="1.0"/>
<circle cx="400.4" cy="491.6" r="1.8" fill="#888" stroke="#111" stroke-width="1.0"/>
<circle cx="404.6" cy="484.4" r="1.8" fill="#888" stroke="#111" stroke-width="1.0"/>
<circle cx="410.7" cy="479.7" r="1.8" fill="#888" stroke="#111" stroke-width="1.0"/>
<circle cx="418.0" cy="478.0" r="1.8" fill="#888" stroke="#111" stroke-width="1.0"/>
<circle cx="425.3" cy="479.7" r="1.8" fill="#888" stroke="#111" stroke-width="1.0"/>
<circle cx="431.4" cy="484.4" r="1.8" fill="#888" stroke="#111" stroke-width="1.0"/>
<circle cx="435.6" cy="491.6" r="1.8" fill="#888" stroke="#111" stroke-width="1.0"/>
<path d="M428,476 L440,486 L450,526 L436,524" stroke="#111" stroke-width="0.9" fill="none"/>
<path d="M406,479 C409,474 412,472 416,471" stroke="#111" stroke-width="1.2" fill="none"/>
<path d="M174,549 L175,544 C176,542 178,542 180,543 L258,585 C261,587 262,589 262,592 L262,617 C262,620 259,622 256,622 L174,581 Z" fill="#fff" stroke="#111" stroke-width="1.2"/>
<path d="M174,549 L254,590 L262,589 M254,590 L255,622" stroke="#111" stroke-width="0.9" fill="none"/>
<path d="M177,553 L252,592 L252,617" stroke="#111" stroke-width="0.7" fill="none"/>
<path d="M234,590 L250,598 L250,617 L234,609 Z" fill="#fff" stroke="#111" stroke-width="0.9"/>
<path d="M236,592 L248,598 L248,615 L236,609 Z" fill="#eee" stroke="#444" stroke-width="0.5"/>
<path d="M169,556 L176,554 L182,558 L182,570 L176,572 L169,568 Z" fill="#fff" stroke="#111" stroke-width="1.1"/>
<path d="M176,554 L176,572" stroke="#111" stroke-width="0.8"/>
<path d="M180,560 L208,574 L216,578 L217,590 L210,588" stroke="#111" stroke-width="0.9" fill="none"/>
<path d="M182,566 L205,577" stroke="#111" stroke-width="0.8" fill="none"/>
<path d="M205,575 L214,578 L216,590 L210,592 L205,590 Z" fill="#fff" stroke="#111" stroke-width="0.9"/>
<rect x="209" y="580" width="3" height="6" fill="#333"/>
<path d="M176,573 L200,583 L198,592 L175,582 Z" fill="#fff" stroke="#111" stroke-width="1"/>
<ellipse cx="201" cy="588" rx="4" ry="5" fill="#fff" stroke="#111" stroke-width="1.1"/>
<path d="M183,576 L184,585 M190,579 L191,588" stroke="#111" stroke-width="0.8"/>
<path d="M177,585 C180,592 182,596 186,599 L196,600 C194,596 192,592 192,588 Z" fill="#fff" stroke="#111" stroke-width="1"/>
<path d="M188,590 C190,595 192,598 194,600" stroke="#333" stroke-width="1.2" fill="none"/>
<path d="M156,596 L166,588 C168,587 170,587 172,588 L202,605 C204,607 204,609 202,611 L192,617 C190,618 188,618 186,617 L157,600 Z" fill="#fff" stroke="#111" stroke-width="1.1"/>
<path d="M157,600 L157,604 L186,621 L192,621 L202,614 L202,611 M186,617 L186,621" stroke="#111" stroke-width="0.9" fill="none"/>
<ellipse cx="168" cy="591" rx="2" ry="1.5" fill="#fff" stroke="#111" stroke-width="0.8"/><ellipse cx="193" cy="605" rx="2" ry="1.5" fill="#fff" stroke="#111" stroke-width="0.8"/>
<path d="M167,605 L167,616 L170,616 L170,606 M192,621 L192,630 L196,630 L196,620" fill="#fff" stroke="#111" stroke-width="0.9"/>
<g transform="translate(227,633) rotate(-10)"><rect x="-4.0" y="-5.0" width="8" height="10" rx="1" fill="#fff" stroke="#111" stroke-width="1.25"/><line x1="-2.5" y1="-3.2" x2="2.5" y2="-3.2" stroke="#111" stroke-width="0.8"/><rect x="-3.0" y="-2.5" width="4.0" height="6.5" fill="#333"/></g>
<path d="M345,684 L346,677 L357,676 L361,684 Z" fill="#fff" stroke="#111" stroke-width="1"/>
<path d="M316,697 L318,692 L330,691 L333,697 Z" fill="#fff" stroke="#111" stroke-width="1"/>
<path d="M378,690 L384,692 L386,705 L381,706 Z" fill="#fff" stroke="#111" stroke-width="1"/>
<path d="M350,742 L356,740 L357,753 L351,754 Z" fill="#fff" stroke="#111" stroke-width="1"/>
<path d="M370,730 L381,727 L383,737 L372,739 Z" fill="#fff" stroke="#111" stroke-width="1"/>
<path d="M330,696 L348,684 C360,680 374,684 382,692 C388,700 388,714 384,724 C378,736 366,744 352,748 L338,752 Z" fill="#fff" stroke="#111" stroke-width="1.1"/>
<path d="M356,684 C368,690 374,710 370,732 M362,682 C376,690 382,712 377,734" stroke="#111" stroke-width="0.9" fill="none"/>
<path d="M340,705 L350,700 L356,712 L346,716 Z" fill="#fff" stroke="#111" stroke-width="0.8"/>
<path d="M314,708 L330,702 C344,700 352,716 352,732 C352,746 345,756 334,757 L322,759 Z" fill="#fff" stroke="#111" stroke-width="1"/>
<path d="M318,706 C332,704 340,718 340,734 C340,748 334,756 326,758 M323,704 C337,703 345,718 345,734 C345,748 339,756 330,758" stroke="#111" stroke-width="0.9" fill="none"/>
<ellipse cx="0" cy="0" rx="18.5" ry="25" transform="translate(319,733) rotate(-10)" fill="#fff" stroke="#111" stroke-width="1.2"/>
<ellipse cx="0" cy="0" rx="16.5" ry="22.5" transform="translate(320,734) rotate(-10)" fill="none" stroke="#111" stroke-width="0.7"/>
<ellipse cx="0" cy="0" rx="14" ry="20" transform="translate(320,734) rotate(-10)" fill="#fff" stroke="#111" stroke-width="0.8"/>
<ellipse cx="0" cy="0" rx="11" ry="16" transform="translate(321,735) rotate(-10)" fill="none" stroke="#111" stroke-width="0.6"/>
<ellipse cx="0" cy="0" rx="4.0" ry="4.6" transform="translate(314,722) rotate(0)" fill="#fff" stroke="#111" stroke-width="1.0"/>
<ellipse cx="0" cy="0" rx="4.0" ry="4.6" transform="translate(305,737) rotate(0)" fill="#fff" stroke="#111" stroke-width="1.0"/>
<ellipse cx="0" cy="0" rx="4.0" ry="4.6" transform="translate(326,748) rotate(0)" fill="#fff" stroke="#111" stroke-width="1.0"/>
<path d="M316,718 L332,748 M320,716 L336,745" stroke="#111" stroke-width="0.8" fill="none"/>
<circle cx="317" cy="735" r="1.8" fill="#444"/>
<g transform="translate(306,664) rotate(-5)"><rect x="-2.5" y="-5.0" width="5" height="10" rx="1" fill="#fff" stroke="#111" stroke-width="1.25"/><line x1="-1.0" y1="-3.2" x2="1.0" y2="-3.2" stroke="#111" stroke-width="0.8"/></g>
<g transform="translate(307,680) rotate(-5)"><rect x="-3.0" y="-5.0" width="6" height="10" rx="1" fill="#fff" stroke="#111" stroke-width="1.25"/><line x1="-1.5" y1="-3.2" x2="1.5" y2="-3.2" stroke="#111" stroke-width="0.8"/><rect x="-2.0" y="-2.5" width="3.0" height="6.5" fill="#333"/></g>
<path d="M378,630 L384,628 L387,633 L386,639 L380,640 Z" fill="#fff" stroke="#111" stroke-width="0.9"/><rect x="380" y="633" width="4" height="4" fill="#333"/>
<path d="M374,645 L384,642 L391,647 L391,668 L383,670 L374,666 Z" fill="#fff" stroke="#111" stroke-width="1"/>
<path d="M383,646 L383,670 M376,644 L381,648 L388,645" stroke="#111" stroke-width="0.8" fill="none"/>
<path d="M250,738 L257,735 L264,738 L264,746 L257,750 L250,746 Z" fill="#fff" stroke="#111" stroke-width="1.1"/><path d="M250,738 L257,741 L264,738 M257,741 L257,750" stroke="#111" stroke-width="0.8" fill="none"/>
<rect x="254" y="730" width="6" height="7" rx="1.5" fill="#fff" stroke="#111" stroke-width="1"/><rect x="251" y="741" width="4" height="4" fill="#333"/>
<g transform="translate(243,690) rotate(-5)"><rect x="-3.0" y="-5.5" width="6" height="11" rx="1" fill="#fff" stroke="#111" stroke-width="1.25"/><line x1="-1.5" y1="-3.7" x2="1.5" y2="-3.7" stroke="#111" stroke-width="0.8"/></g>
<g transform="translate(243,707) rotate(-5)"><rect x="-3.0" y="-5.0" width="6" height="10" rx="1" fill="#fff" stroke="#111" stroke-width="1.25"/><line x1="-1.5" y1="-3.2" x2="1.5" y2="-3.2" stroke="#111" stroke-width="0.8"/><rect x="-2.0" y="-2.5" width="3.0" height="6.5" fill="#333"/></g>
<path d="M586,579 L597,572 L617.5,580.5 L604,589 Z" fill="#fff" stroke="#111" stroke-width="1.3"/>
<ellipse cx="598.5" cy="578" rx="2.8" ry="1.8" fill="#fff" stroke="#111" stroke-width="1"/>
<path d="M586,579 L586,607 L594,612 L604,606 L604,589 Z" fill="#fff" stroke="#111" stroke-width="1.3"/>
<path d="M604,589 L617.5,580.5 L617.5,596 L604,605 Z" fill="#fff" stroke="#111" stroke-width="1.3"/>
<path d="M591,607 L599,612 L616,603 L616,598 L608,602 L600,607 Z" fill="#fff" stroke="#111" stroke-width="1"/>
<path d="M594,612 L594,608 M604,606 L608,604" stroke="#111" stroke-width="0.9"/>
<rect x="589" y="571.5" width="4" height="2.5" fill="#111"/><circle cx="589" cy="600" r="0.8" fill="#333"/>
<path d="M530,611 L538,606 L541,607 L541,627 L533,631 L530,629 Z" fill="#fff" stroke="#111" stroke-width="1.3"/>
<path d="M536,604 L550,601 C560,601 565,608 564,616 L564,648 C560,652 547,652 543,648 L543,628 L538,624 Z" fill="#fff" stroke="#111" stroke-width="1.3"/>
<path d="M538,606 C545,604 550,606 552,612 L552,620" stroke="#111" stroke-width="0.9" fill="none"/>
<path d="M543,634 C548,637 560,637 564,634 M543,640 C548,643 560,643 564,640" stroke="#111" stroke-width="1.2" fill="none"/>
<ellipse cx="0" cy="0" rx="10.5" ry="4" transform="translate(553.5,648.5) rotate(0)" fill="#fff" stroke="#111" stroke-width="1.3"/>
<rect x="533.5" y="602.5" width="4" height="3" fill="#111"/>
<path d="M538,625 L541,632 L543,634" stroke="#111" stroke-width="1" fill="none"/>
<path d="M544,664 L544,676 L563,676 L563,664" fill="#fff" stroke="#111" stroke-width="1.2"/>
<ellipse cx="0" cy="0" rx="9.5" ry="5" transform="translate(553.5,664) rotate(0)" fill="#fff" stroke="#111" stroke-width="1.2"/>
<circle cx="553" cy="661.5" r="1.4" fill="#fff" stroke="#111" stroke-width="0.8"/>
<circle cx="550" cy="665.5" r="1.4" fill="#fff" stroke="#111" stroke-width="0.8"/>
<circle cx="556.5" cy="665.5" r="1.4" fill="#fff" stroke="#111" stroke-width="0.8"/>
<ellipse cx="0" cy="0" rx="11" ry="4" transform="translate(553.5,676) rotate(0)" fill="#fff" stroke="#111" stroke-width="1.2"/>
<path d="M546,680 L551.5,714 L556.5,714 L563,680" fill="#fff" stroke="#111" stroke-width="1.1"/>
<path d="M551.5,714 L550,724 M556.5,714 L559,724 M548,723 L552,725 M557,725 L561,723" stroke="#111" stroke-width="0.9" fill="none"/>
<g transform="translate(640,510) rotate(-25.7)"><path d="M0,-7 L28.848743473503312,-7 A3,7 0 0,1 28.848743473503312,7 L0,7" fill="#fff" stroke="#111" stroke-width="1"/><ellipse rx="3" ry="7" fill="#fff" stroke="#111" stroke-width="1"/><ellipse rx="1.6" ry="4" fill="#555"/></g>
<g transform="translate(656,522.5) rotate(-23.9)"><path d="M0,-7 L28.429737951659,-7 A3,7 0 0,1 28.429737951659,7 L0,7" fill="#fff" stroke="#111" stroke-width="1"/><ellipse rx="3" ry="7" fill="#fff" stroke="#111" stroke-width="1"/><ellipse rx="1.6" ry="4" fill="#555"/></g>
<path d="M628,525 L636,521 L643,524 L643,535 L635,539 L628,536 Z" fill="#fff" stroke="#111" stroke-width="1"/><path d="M628,525 L635,528 L643,524 M635,528 L635,539" stroke="#111" stroke-width="0.8" fill="none"/>
<path d="M633,523 L637,513" stroke="#111" stroke-width="1.62" fill="none" stroke-linecap="round" stroke-linejoin="round" />
<path d="M643,528 C648,527 652,525 655,522" stroke="#111" stroke-width="1.62" fill="none" stroke-linecap="round" stroke-linejoin="round" />
<path d="M613,189 L618,186 L622,189 L622,195 L617,198 L613,195 Z" fill="#fff" stroke="#111" stroke-width="1"/><rect x="614" y="190" width="4" height="4" fill="#444"/>
<path d="M601,209 L610,204 L619,209 L619,221 L610,226 L601,221 Z" fill="#fff" stroke="#111" stroke-width="1.1"/><path d="M601,209 L610,214 L619,209 M610,214 L610,226" stroke="#111" stroke-width="0.9" fill="none"/><ellipse cx="610" cy="209" rx="4" ry="2.5" fill="#fff" stroke="#111" stroke-width="0.8"/>
<rect x="598" y="218" width="5" height="5" fill="#222"/>
<rect x="275" y="297" width="6" height="12" rx="2.5" fill="#fff" stroke="#111" stroke-width="1"/><rect x="275" y="301" width="6" height="3" fill="#333"/>
<path d="M283,292 C285,288 289,288 290,291 M283,294 L289,294" stroke="#111" stroke-width="1" fill="none"/>
<path d="M474,432 C490,435 505,440 515,444 C522,448 522,453 515,457.5" stroke="#111" stroke-width="2.6" fill="none" stroke-linecap="round" stroke-linejoin="round" />
<path d="M441,484 C470,479 500,474 525,472 C545,470 565,470 578,474 C588,478 592,484 593,490" stroke="#111" stroke-width="1.6" fill="none" stroke-linecap="round" stroke-linejoin="round" />
<text class="t" transform="translate(534.5,38.0) scale(0.62,1)" text-anchor="middle" font-size="15.5">21</text>
<text class="t" transform="translate(583.0,67.6) scale(0.62,1)" text-anchor="middle" font-size="15.5">21</text>
<text class="t" transform="translate(621.9,83.6) scale(0.62,1)" text-anchor="middle" font-size="15.5">22</text>
<text class="t" transform="translate(657.0,107.0) scale(0.62,1)" text-anchor="middle" font-size="15.5">21</text>
<text class="t" transform="translate(163.8,163.8) scale(0.62,1)" text-anchor="middle" font-size="15.5">19</text>
<text class="t" transform="translate(319.9,147.5) scale(0.62,1)" text-anchor="middle" font-size="15.5">20</text>
<text class="t" transform="translate(350.0,231.0) scale(0.62,1)" text-anchor="middle" font-size="15.5">1</text>
<text class="t" transform="translate(651.5,253.0) scale(0.62,1)" text-anchor="middle" font-size="15.5">23</text>
<text class="t" transform="translate(630.0,264.0) scale(0.62,1)" text-anchor="middle" font-size="15.5">15</text>
<text class="t" transform="translate(571.4,300.0) scale(0.62,1)" text-anchor="middle" font-size="15.5">20</text>
<text class="t" transform="translate(299.5,255.0) scale(0.62,1)" text-anchor="middle" font-size="15.5">13</text>
<text class="t" transform="translate(315.0,319.0) scale(0.62,1)" text-anchor="middle" font-size="15.5">12</text>
<text class="t" transform="translate(133.5,363.0) scale(0.62,1)" text-anchor="middle" font-size="15.5">14</text>
<text class="t" transform="translate(174.5,482.5) scale(0.62,1)" text-anchor="middle" font-size="15.5">17</text>
<text class="t" transform="translate(295.5,514.0) scale(0.62,1)" text-anchor="middle" font-size="15.5">18</text>
<text class="t" transform="translate(323.5,527.5) scale(0.62,1)" text-anchor="middle" font-size="15.5">30</text>
<text class="t" transform="translate(355.5,553.8) scale(0.62,1)" text-anchor="middle" font-size="15.5">16</text>
<text class="t" transform="translate(561.0,466.0) scale(0.62,1)" text-anchor="middle" font-size="15.5">11</text>
<text class="t" transform="translate(573.2,507.5) scale(0.62,1)" text-anchor="middle" font-size="15.5">29</text>
<text class="t" transform="translate(553.2,524.0) scale(0.62,1)" text-anchor="middle" font-size="15.5">10</text>
<text class="t" transform="translate(608.2,501.0) scale(0.62,1)" text-anchor="middle" font-size="15.5">28</text>
<text class="t" transform="translate(694.5,489.0) scale(0.62,1)" text-anchor="middle" font-size="15.5">25</text>
<text class="t" transform="translate(675.0,555.0) scale(0.62,1)" text-anchor="middle" font-size="15.5">28</text>
<text class="t" transform="translate(660.5,562.5) scale(0.62,1)" text-anchor="middle" font-size="15.5">26</text>
<text class="t" transform="translate(584.5,560.0) scale(0.62,1)" text-anchor="middle" font-size="15.5">27</text>
<text class="t" transform="translate(555.8,555.0) scale(0.62,1)" text-anchor="middle" font-size="15.5">6</text>
<text class="t" transform="translate(242.0,542.5) scale(0.62,1)" text-anchor="middle" font-size="15.5">2</text>
<text class="t" transform="translate(384.2,590.0) scale(0.62,1)" text-anchor="middle" font-size="15.5">1</text>
<text class="t" transform="translate(657.0,602.8) scale(0.62,1)" text-anchor="middle" font-size="15.5">9</text>
<text class="t" transform="translate(428.5,630.0) scale(0.62,1)" text-anchor="middle" font-size="15.5">5</text>
<text class="t" transform="translate(428.5,652.5) scale(0.62,1)" text-anchor="middle" font-size="15.5">4</text>
<text class="t" transform="translate(428.5,692.5) scale(0.62,1)" text-anchor="middle" font-size="15.5">3</text>
<text class="t" transform="translate(600.2,653.4) scale(0.62,1)" text-anchor="middle" font-size="15.5">7</text>
<text class="t" transform="translate(600.2,683.8) scale(0.62,1)" text-anchor="middle" font-size="15.5">8</text>
<text class="t" transform="translate(215.0,756.0) scale(0.62,1)" text-anchor="middle" font-size="15.5">24</text>
<rect x="605.6" y="64.8" width="31.6" height="24.4" fill="none" stroke="#d0262d" stroke-width="2.4"/>
<line x1="528.0" y1="39.0" x2="477.4" y2="86.8" stroke="#111" stroke-width="1.05"/>
<path d="M472.0,92.0 L475.3,84.6 L479.6,89.1 Z" fill="#111"/>
<line x1="580.0" y1="69.5" x2="530.2" y2="115.9" stroke="#111" stroke-width="1.05"/>
<path d="M524.8,121.0 L528.1,113.6 L532.3,118.2 Z" fill="#111"/>
<line x1="655.0" y1="110.0" x2="600.1" y2="158.1" stroke="#111" stroke-width="1.05"/>
<path d="M594.5,163.0 L598.1,155.7 L602.2,160.4 Z" fill="#111"/>
<line x1="611.0" y1="90.0" x2="566.6" y2="130.0" stroke="#111" stroke-width="1.05"/>
<path d="M561.0,135.0 L564.5,127.7 L568.6,132.3 Z" fill="#111"/>
<line x1="170.0" y1="156.0" x2="185.0" y2="144.5" stroke="#111" stroke-width="1.05"/>
<path d="M191.0,140.0 L186.9,147.0 L183.2,142.1 Z" fill="#111"/>
<line x1="170.0" y1="156.0" x2="183.5" y2="154.7" stroke="#111" stroke-width="1.05"/>
<path d="M191.0,154.0 L183.8,157.8 L183.2,151.6 Z" fill="#111"/>
<line x1="326.0" y1="146.0" x2="338.6" y2="153.6" stroke="#111" stroke-width="1.05"/>
<path d="M345.0,157.5 L337.0,156.3 L340.2,151.0 Z" fill="#111"/>
<line x1="345.0" y1="221.0" x2="335.3" y2="211.3" stroke="#111" stroke-width="1.05"/>
<path d="M330.0,206.0 L337.5,209.1 L333.1,213.5 Z" fill="#111"/>
<line x1="644.0" y1="240.0" x2="624.7" y2="205.5" stroke="#111" stroke-width="1.05"/>
<path d="M621.0,199.0 L627.4,204.0 L622.0,207.1 Z" fill="#111"/>
<line x1="627.0" y1="251.0" x2="616.0" y2="233.4" stroke="#111" stroke-width="1.05"/>
<path d="M612.0,227.0 L618.6,231.7 L613.3,235.0 Z" fill="#111"/>
<line x1="566.0" y1="292.5" x2="549.0" y2="282.7" stroke="#111" stroke-width="1.05"/>
<path d="M542.5,279.0 L550.5,280.0 L547.5,285.4 Z" fill="#111"/>
<line x1="291.0" y1="252.5" x2="227.7" y2="285.5" stroke="#111" stroke-width="1.05"/>
<path d="M221.0,289.0 L226.2,282.8 L229.1,288.3 Z" fill="#111"/>
<line x1="307.5" y1="314.0" x2="291.0" y2="307.7" stroke="#111" stroke-width="1.05" stroke-dasharray="4 2"/>
<path d="M284.0,305.0 L292.1,304.8 L289.9,310.6 Z" fill="#111"/>
<line x1="137.0" y1="352.0" x2="150.4" y2="340.0" stroke="#111" stroke-width="1.05"/>
<path d="M156.0,335.0 L152.5,342.3 L148.3,337.7 Z" fill="#111"/>
<line x1="181.0" y1="464.0" x2="209.0" y2="419.4" stroke="#111" stroke-width="1.05"/>
<path d="M213.0,413.0 L211.6,421.0 L206.4,417.7 Z" fill="#111"/>
<line x1="181.0" y1="464.0" x2="256.6" y2="441.2" stroke="#111" stroke-width="1.05"/>
<path d="M263.8,439.0 L257.5,444.1 L255.7,438.2 Z" fill="#111"/>
<line x1="305.0" y1="497.5" x2="378.4" y2="424.1" stroke="#111" stroke-width="1.05"/>
<path d="M383.8,418.8 L380.6,426.2 L376.3,421.9 Z" fill="#111"/>
<line x1="331.0" y1="514.0" x2="375.3" y2="459.8" stroke="#111" stroke-width="1.05"/>
<path d="M380.0,454.0 L377.7,461.8 L372.9,457.8 Z" fill="#111"/>
<line x1="359.0" y1="542.5" x2="395.0" y2="510.0" stroke="#111" stroke-width="1.05"/>
<path d="M400.6,505.0 L397.1,512.3 L393.0,507.7 Z" fill="#111"/>
<line x1="555.0" y1="459.0" x2="532.2" y2="452.9" stroke="#111" stroke-width="1.05" stroke-dasharray="4 2"/>
<path d="M525.0,451.0 L533.0,449.9 L531.4,455.9 Z" fill="#111"/>
<line x1="566.0" y1="497.5" x2="556.4" y2="481.4" stroke="#111" stroke-width="1.05"/>
<path d="M552.5,475.0 L559.0,479.8 L553.7,483.0 Z" fill="#111"/>
<line x1="546.0" y1="517.5" x2="504.8" y2="506.9" stroke="#111" stroke-width="1.05" stroke-dasharray="4 2"/>
<path d="M497.5,505.0 L505.5,503.9 L504.0,509.9 Z" fill="#111"/>
<line x1="614.0" y1="501.0" x2="628.8" y2="510.8" stroke="#111" stroke-width="1.05"/>
<path d="M635.0,515.0 L627.0,513.4 L630.5,508.3 Z" fill="#111"/>
<line x1="689.0" y1="485.0" x2="674.4" y2="491.1" stroke="#111" stroke-width="1.05"/>
<path d="M667.5,494.0 L673.2,488.2 L675.6,494.0 Z" fill="#111"/>
<line x1="689.0" y1="485.0" x2="683.1" y2="498.2" stroke="#111" stroke-width="1.05"/>
<path d="M680.0,505.0 L680.3,496.9 L685.9,499.4 Z" fill="#111"/>
<line x1="672.5" y1="545.0" x2="656.1" y2="533.3" stroke="#111" stroke-width="1.05"/>
<path d="M650.0,529.0 L657.9,530.8 L654.3,535.9 Z" fill="#111"/>
<line x1="655.0" y1="551.0" x2="646.0" y2="544.4" stroke="#111" stroke-width="1.05"/>
<path d="M640.0,540.0 L647.9,541.9 L644.2,546.9 Z" fill="#111"/>
<line x1="589.0" y1="550.0" x2="595.6" y2="536.7" stroke="#111" stroke-width="1.05"/>
<path d="M599.0,530.0 L598.4,538.1 L592.9,535.3 Z" fill="#111"/>
<line x1="551.0" y1="550.0" x2="526.2" y2="557.0" stroke="#111" stroke-width="1.05" stroke-dasharray="4 2"/>
<path d="M519.0,559.0 L525.4,554.0 L527.1,560.0 Z" fill="#111"/>
<line x1="236.0" y1="542.5" x2="224.0" y2="554.7" stroke="#111" stroke-width="1.05"/>
<path d="M218.8,560.0 L221.8,552.5 L226.2,556.8 Z" fill="#111"/>
<line x1="387.5" y1="586.0" x2="404.1" y2="593.1" stroke="#111" stroke-width="1.05"/>
<path d="M411.0,596.0 L402.9,595.9 L405.3,590.2 Z" fill="#111"/>
<line x1="653.0" y1="596.0" x2="626.3" y2="588.9" stroke="#111" stroke-width="1.05" stroke-dasharray="4 2"/>
<path d="M619.0,587.0 L627.0,585.9 L625.5,591.9 Z" fill="#111"/>
<line x1="424.0" y1="624.0" x2="397.3" y2="629.5" stroke="#111" stroke-width="1.05" stroke-dasharray="4 2"/>
<path d="M390.0,631.0 L396.7,626.5 L398.0,632.5 Z" fill="#111"/>
<line x1="424.0" y1="650.0" x2="399.9" y2="653.1" stroke="#111" stroke-width="1.05" stroke-dasharray="4 2"/>
<path d="M392.5,654.0 L399.5,650.0 L400.3,656.1 Z" fill="#111"/>
<line x1="424.0" y1="689.0" x2="394.8" y2="695.8" stroke="#111" stroke-width="1.05" stroke-dasharray="4 2"/>
<path d="M387.5,697.5 L394.1,692.8 L395.5,698.8 Z" fill="#111"/>
<line x1="597.0" y1="646.6" x2="572.3" y2="640.5" stroke="#111" stroke-width="1.05" stroke-dasharray="4 2"/>
<path d="M565.0,638.8 L573.0,637.5 L571.5,643.5 Z" fill="#111"/>
<line x1="597.0" y1="677.0" x2="572.3" y2="670.8" stroke="#111" stroke-width="1.05" stroke-dasharray="4 2"/>
<path d="M565.0,669.0 L573.0,667.8 L571.5,673.8 Z" fill="#111"/>
<line x1="222.0" y1="750.0" x2="239.7" y2="745.8" stroke="#111" stroke-width="1.05"/>
<path d="M247.0,744.0 L240.4,748.8 L239.0,742.7 Z" fill="#111"/>
<g font-family="Liberation Sans" font-weight="bold" font-style="italic" font-size="35" fill="#7fa3d6" fill-opacity="0.9"><text x="297" y="409.5" textLength="82" lengthAdjust="spacingAndGlyphs">Frida</text><text x="406" y="409.5" textLength="91" lengthAdjust="spacingAndGlyphs">Parts</text></g>
<path d="M375.5,390 L380.5,389 L387.5,407 L402,385 L412,385 L391,415 L385,415 Z" fill="#f2b060" fill-opacity="0.85"/>
<text x="500" y="391" font-family="Liberation Sans" font-size="8" fill="#7fa3d6">&#174;</text>
</svg></body></html>
